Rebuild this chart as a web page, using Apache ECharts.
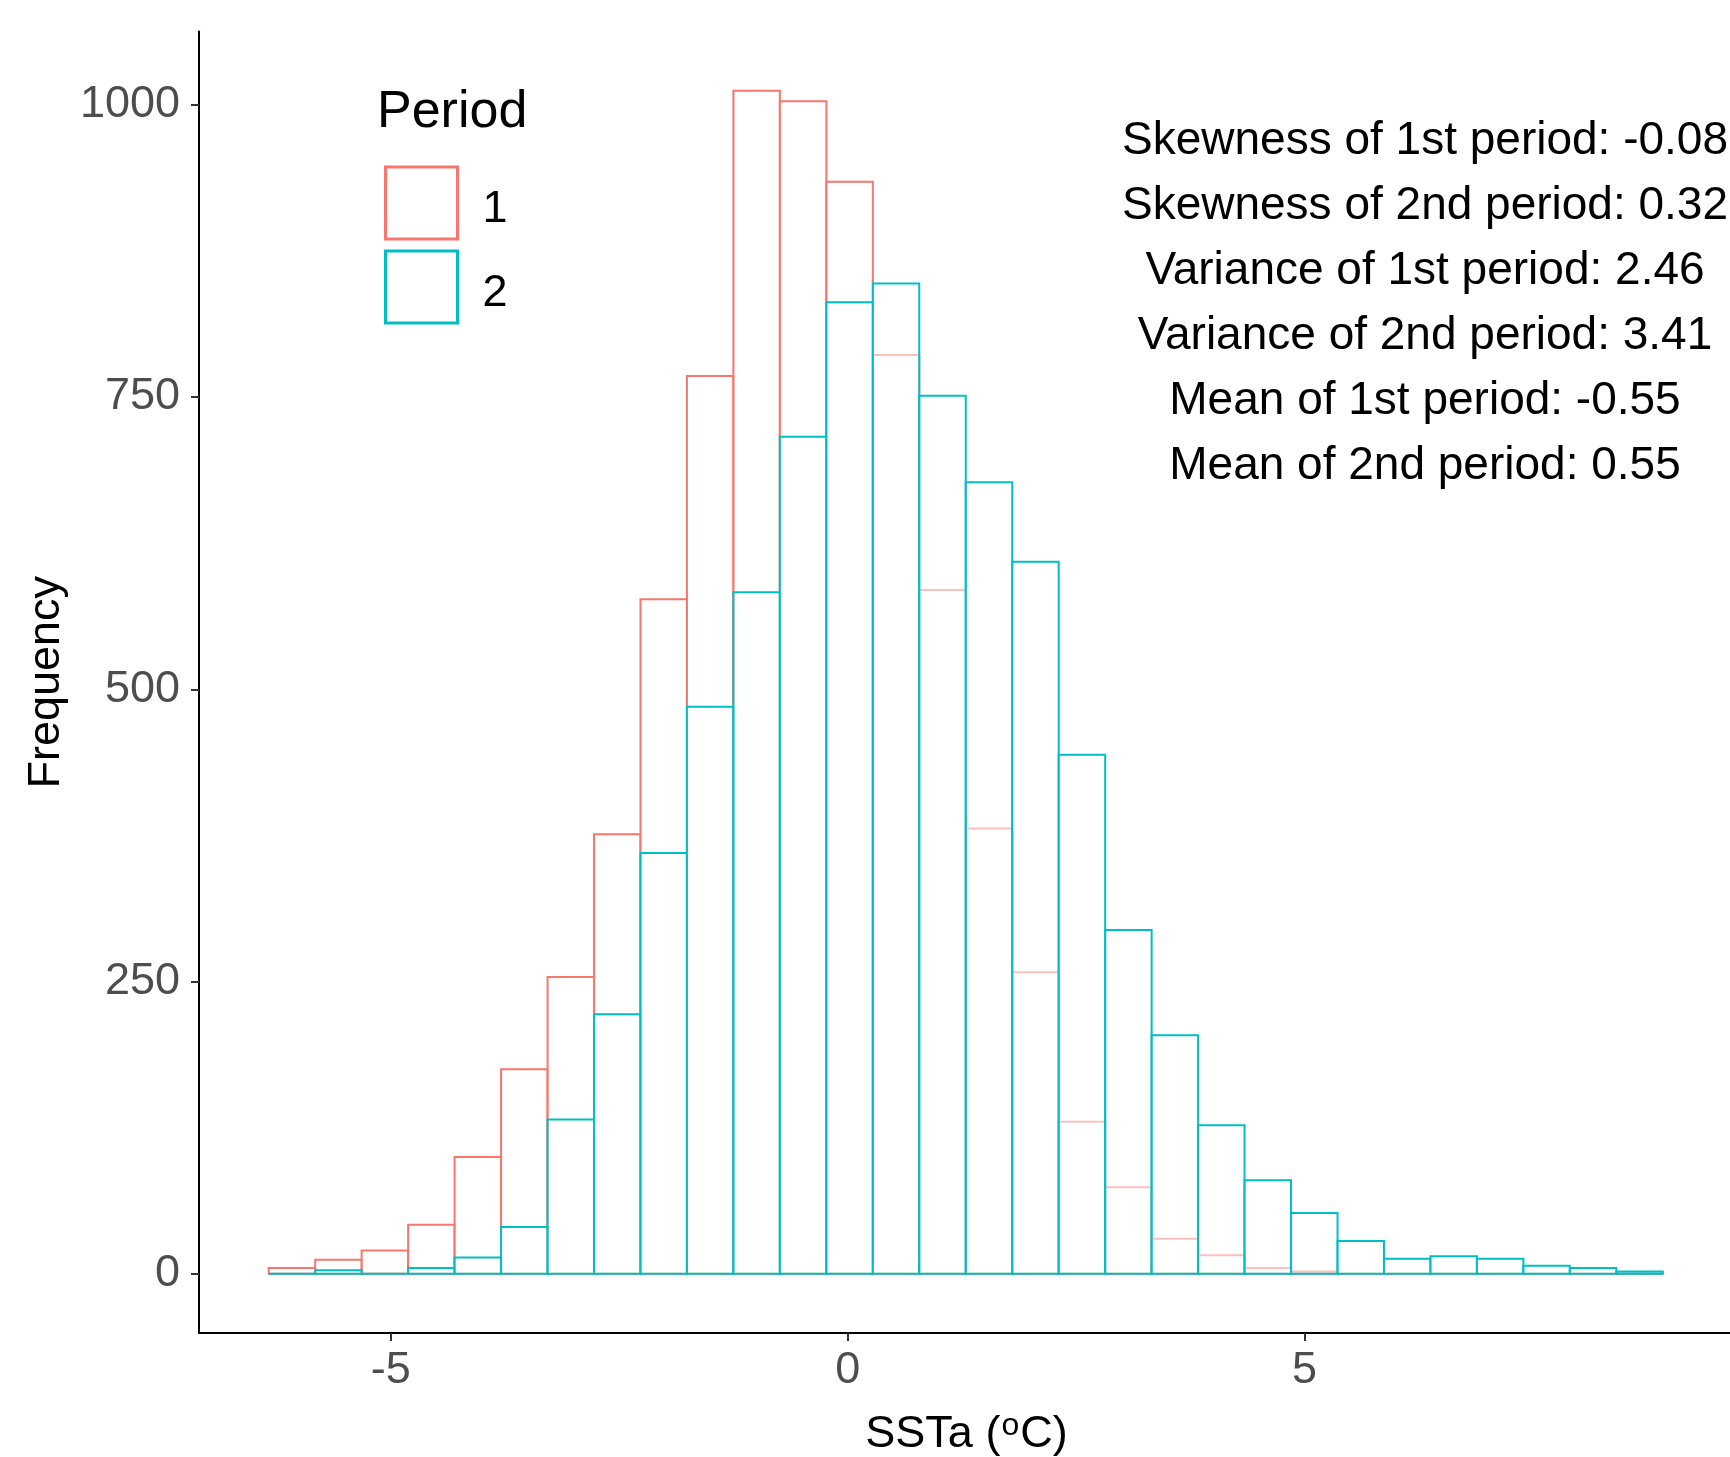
<!DOCTYPE html>
<html>
<head>
<meta charset="utf-8">
<script src="https://cdn.jsdelivr.net/npm/echarts@6/dist/echarts.min.js"></script>
<style>
html,body{margin:0;padding:0;background:#fff;}
#chart{width:1730px;height:1457px;}
</style>
</head>
<body>
<div id="chart"></div>
<script>
// ---- data ----
const binEdges = [-6.337, -5.828, -5.320, -4.811, -4.303, -3.794, -3.285, -2.777, -2.268, -1.760,
  -1.251, -0.743, -0.234, 0.275, 0.783, 1.292, 1.801, 2.309, 2.818, 3.326,
  3.835, 4.343, 4.852, 5.361, 5.869, 6.378, 6.886, 7.395, 7.903, 8.412, 8.921];
const period1Counts = [5, 12, 20, 42, 100, 175, 254, 376, 577, 768,
  1012, 1003, 934, 786, 585, 381, 258, 130, 74, 30,
  16, 5, 2, 0, 0, 0, 0, 0, 0, 0];
const period2Counts = [0, 3, 0, 5, 14, 40, 132, 222, 360, 485,
  583, 716, 831, 847, 751, 677, 609, 444, 294, 204,
  127, 80, 52, 28, 13, 15, 13, 7, 5, 2];
const periodNames = ['1', '2'];
const xTicks = [-5, 0, 5];
const yTicks = [0, 250, 500, 750, 1000];
const statLines = [
  'Skewness of 1st period: -0.08',
  'Skewness of 2nd period: 0.32',
  'Variance of 1st period: 2.46',
  'Variance of 2nd period: 3.41',
  'Mean of 1st period: -0.55',
  'Mean of 2nd period: 0.55'
];

const FONT = '"Liberation Sans", Arial, Helvetica, sans-serif';
const RED = '#F8766D';
const CYAN = '#00BFC4';

function toBins(counts) {
  return counts.map((c, i) => [binEdges[i], binEdges[i + 1], c]);
}

function makeRender(stroke, fill) {
  return function (params, api) {
    const p0 = api.coord([api.value(0), api.value(2)]);
    const p1 = api.coord([api.value(1), 0]);
    return {
      type: 'rect',
      shape: { x: p0[0], y: p0[1], width: p1[0] - p0[0], height: p1[1] - p0[1] },
      style: { fill: fill, stroke: stroke, lineWidth: 2 }
    };
  };
}

const chart = echarts.init(document.getElementById('chart'), null, { renderer: 'canvas' });

const graphics = [{
  type: 'text', x: 377, y: 113,
  style: { text: 'Period', x: 0, y: 0, font: '52px ' + FONT, fill: '#000',
    align: 'left', verticalAlign: 'middle', textAlign: 'left', textVerticalAlign: 'middle' }
}];
statLines.forEach((t, i) => {
  graphics.push({
    type: 'text', x: 1425, y: 141.5 + 65 * i,
    style: { text: t, x: 0, y: 0, font: '46px ' + FONT, fill: '#000',
      align: 'center', verticalAlign: 'middle', textAlign: 'center', textVerticalAlign: 'middle' }
  });
});

const option = {
  backgroundColor: '#ffffff',
  animation: false,
  color: [RED, CYAN],
  textStyle: { fontFamily: FONT },
  grid: { left: 199, right: -4, top: 31.5, bottom: 124, containLabel: false, outerBoundsMode: 'none' },
  xAxis: {
    type: 'value', min: -7.10, max: 9.70,
    name: '{a|SSTa (}{sup|o}{a|C)}',
    nameLocation: 'middle', nameGap: 77,
    nameTextStyle: {
      rich: {
        a: { fontSize: 45, fontFamily: FONT, color: '#000', lineHeight: 50 },
        sup: { fontSize: 32, fontFamily: FONT, color: '#000', lineHeight: 2, verticalAlign: 'top', padding: [0, 1, 0, 1] }
      }
    },
    axisLine: { show: true, onZero: false, lineStyle: { color: '#000', width: 2 } },
    axisTick: { show: true, length: 8, customValues: xTicks, lineStyle: { color: '#333', width: 2 } },
    axisLabel: { customValues: xTicks, fontSize: 45, color: '#4D4D4D', margin: 15, fontFamily: FONT },
    splitLine: { show: false }
  },
  yAxis: {
    type: 'value', min: -50.6, max: 1062.6,
    name: 'Frequency', nameLocation: 'middle', nameRotate: 90, nameGap: 95,
    nameTextStyle: { fontSize: 45, color: '#000', fontFamily: FONT },
    axisLine: { show: true, onZero: false, lineStyle: { color: '#000', width: 2 } },
    axisTick: { show: true, length: 8, customValues: yTicks, lineStyle: { color: '#333', width: 2 } },
    axisLabel: {
      customValues: yTicks, fontSize: 45, color: '#4D4D4D', margin: 19, fontFamily: FONT,
      padding: [8, 0, 0, 0],
      formatter: function (v) { return String(v); }
    },
    splitLine: { show: false }
  },
  legend: {
    orient: 'vertical', left: 384, top: 165.5, padding: 0,
    itemWidth: 72, itemHeight: 72, itemGap: 9,
    selectedMode: false,
    formatter: '{v|{name}}',
    textStyle: {
      fontSize: 45, color: '#000', fontFamily: FONT,
      rich: { v: { fontSize: 45, color: '#000', fontFamily: FONT, padding: [13, 0, 0, 20] } }
    },
    data: [
      { name: periodNames[0], icon: 'rect', itemStyle: { color: '#fff', borderColor: RED, borderWidth: 3 } },
      { name: periodNames[1], icon: 'rect', itemStyle: { color: '#fff', borderColor: CYAN, borderWidth: 3 } }
    ]
  },
  graphic: graphics,
  series: [
    {
      name: periodNames[0], type: 'custom', clip: false,
      renderItem: makeRender(RED, 'rgba(255,255,255,0.55)'),
      encode: { x: [0, 1], y: 2 },
      data: toBins(period1Counts), z: 2
    },
    {
      name: periodNames[1], type: 'custom', clip: false,
      renderItem: makeRender(CYAN, 'rgba(255,255,255,0.55)'),
      encode: { x: [0, 1], y: 2 },
      data: toBins(period2Counts), z: 3
    }
  ]
};
chart.setOption(option);
</script>
</body>
</html>
